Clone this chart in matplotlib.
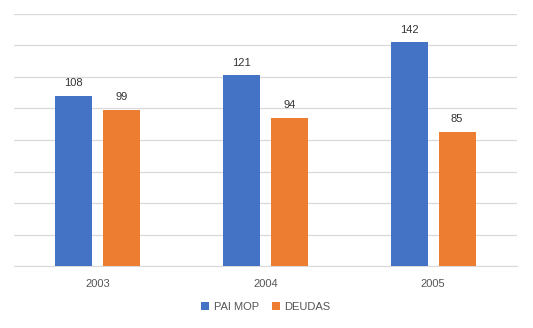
import matplotlib
matplotlib.use("Agg")
import matplotlib.pyplot as plt
import numpy as np

years = ["2003", "2004", "2005"]
pai_mop = [108, 121, 142]
deudas = [99, 94, 85]
series_names = ["PAI MOP", "DEUDAS"]
colors = ["#4472C4", "#ED7D31"]

plt.rcParams['font.family'] = ['Liberation Sans', 'DejaVu Sans']

fig = plt.figure(figsize=(5.33, 3.28), dpi=100)
ax = fig.add_axes([14/533, 1-266/328, (517-14)/533, (266-14)/328])

x = np.arange(len(years))
w = 0.22
off = 0.143
b1 = ax.bar(x - off, pai_mop, w, color=colors[0], label=series_names[0], zorder=3)
b2 = ax.bar(x + off, deudas, w, color=colors[1], label=series_names[1], zorder=3)

for bars, vals in ((b1, pai_mop), (b2, deudas)):
    for rect, v in zip(bars, vals):
        ax.annotate(str(v), (rect.get_x() + rect.get_width()/2, v),
                    xytext=(0, 5.5), textcoords="offset points",
                    ha="center", va="bottom", fontsize=8, color="#333333")

ax.set_xlim(-0.5, 2.5)
ax.set_ylim(0, 160)
ax.set_yticks(np.arange(0, 161, 20))
ax.yaxis.grid(True, color="#d9d9d9", linewidth=0.9, zorder=0)
ax.tick_params(axis="y", left=False, labelleft=False)
ax.tick_params(axis="x", bottom=False, labelsize=8, labelcolor="#555555", pad=6)
ax.set_xticks(x)
ax.set_xticklabels(years)
for s in ["top", "right", "left"]:
    ax.spines[s].set_visible(False)
ax.spines["bottom"].set_color("#d9d9d9")

leg = fig.legend(handles=[b1, b2], labels=series_names, loc="center",
                 bbox_to_anchor=(266/533, 1-307/328), ncol=2, frameon=False,
                 fontsize=8, handlelength=0.7, handleheight=0.7,
                 handletextpad=0.4, columnspacing=1.2)
for t in leg.get_texts():
    t.set_color("#555555")

fig.savefig("out.png", dpi=100)
